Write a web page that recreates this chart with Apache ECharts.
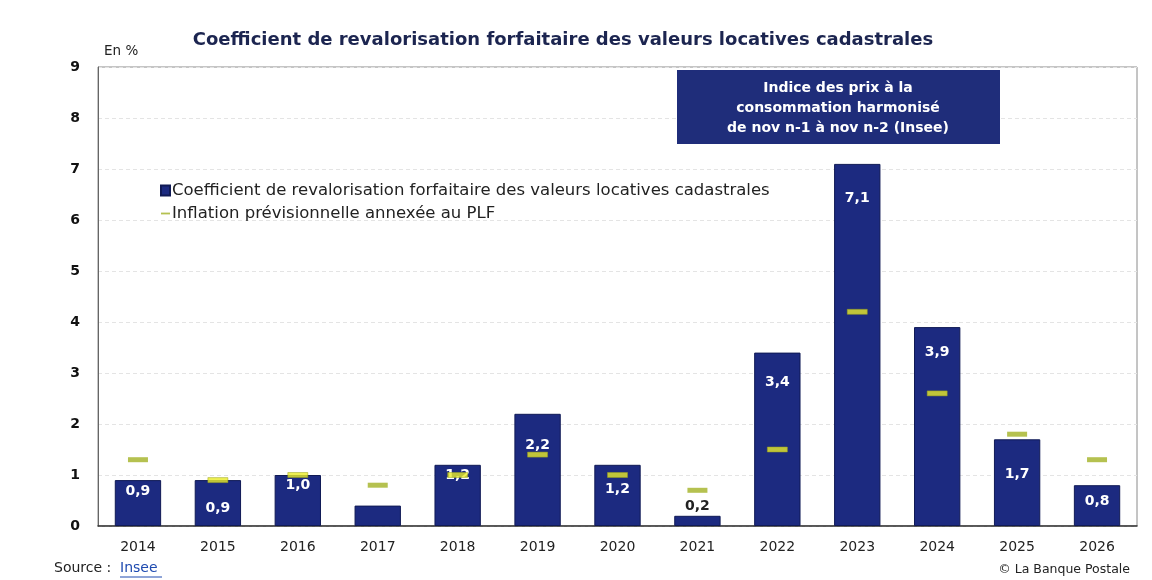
<!DOCTYPE html>
<html>
<head>
<meta charset="utf-8">
<script src="https://cdn.jsdelivr.net/npm/echarts@6/dist/echarts.min.js"></script>
<style>
  html, body { margin: 0; padding: 0; background: #fff; }
  #main { width: 1152px; height: 580px; }
</style>
</head>
<body>
<div id="main"></div>
<script>
// données
const years = ['2014', '2015', '2016', '2017', '2018', '2019', '2020', '2021', '2022', '2023', '2024', '2025', '2026'];
const coefValues = [0.9, 0.9, 1.0, 0.4, 1.2, 2.2, 1.2, 0.2, 3.4, 7.1, 3.9, 1.7, 0.8];
const coefLabels = ['0,9', '0,9', '1,0', '', '1,2', '2,2', '1,2', '0,2', '3,4', '7,1', '3,9', '1,7', '0,8'];
const inflationPLF = [1.3, 0.9, 1.0, 0.8, 1.0, 1.4, 1.0, 0.7, 1.5, 4.2, 2.6, 1.8, 1.3];
const yTicks = [0, 1, 2, 3, 4, 5, 6, 7, 8, 9];

const navy = '#1c2a80';
const olive = '#a3b224';
const yellow = '#eaec28';
const font = 'DejaVu Sans';

// distance du label sous le haut de la barre (px)
const labelDist = { '2014': 4, '2015': 21, '2016': 3, '2018': 4, '2019': 25, '2020': 18,
  '2022': 23, '2023': 27, '2024': 18, '2025': 28, '2026': 9 };

const barData = coefValues.map((v, i) => {
  const y = years[i];
  if (y === '2021') {
    return { value: v, label: { show: true, position: 'top', distance: 2, color: '#222' } };
  }
  if (!coefLabels[i]) return { value: v, label: { show: false } };
  return { value: v, label: { show: true, position: 'insideTop', distance: labelDist[y] || 6 } };
});

// marqueur jaune vif quand il tombe dans la barre, vert olive sinon
const inflData = inflationPLF.map((v, i) => ({
  value: v,
  itemStyle: v <= coefValues[i]
    ? { color: yellow, borderColor: '#9aa31c', borderWidth: 0.5 }
    : { color: olive }
}));

const chart = echarts.init(document.getElementById('main'));
chart.setOption({
  backgroundColor: '#fff',
  animation: false,
  textStyle: { fontFamily: font },
  title: {
    text: 'Coefficient de revalorisation forfaitaire des valeurs locatives cadastrales',
    left: 558, top: 26, textAlign: 'center',
    textStyle: { fontSize: 18, fontWeight: 'bold', color: '#1c2550', fontFamily: font }
  },
  legend: {
    left: 155, top: 177, orient: 'vertical', itemGap: 6,
    itemWidth: 9, itemHeight: 10,
    textStyle: { fontSize: 16.5, color: '#222', padding: [0, 0, 0, -3] },
    data: [
      { name: 'Coefficient de revalorisation forfaitaire des valeurs locatives cadastrales', icon: 'rect' },
      { name: 'Inflation prévisionnelle annexée au PLF', icon: 'path://M0,4 L10,4 L10,6 L0,6 Z', itemStyle: { color: olive } }
    ]
  },
  grid: { left: 98, right: 15, top: 67, bottom: 54, show: true, borderColor: '#8a8a8a', borderWidth: 1 },
  xAxis: {
    type: 'category', data: years,
    axisLine: { show: true, lineStyle: { color: '#333', width: 1.5 } },
    axisTick: { show: false },
    axisLabel: { fontSize: 14, color: '#222', margin: 14 }
  },
  yAxis: {
    type: 'value', min: yTicks[0], max: yTicks[yTicks.length - 1], interval: 1,
    name: 'En %', nameLocation: 'end', nameGap: 9,
    nameTextStyle: { fontSize: 13.5, color: '#222', align: 'left', padding: [0, 0, 0, 6] },
    axisLine: { show: true, lineStyle: { color: '#666' } },
    axisTick: { show: false },
    axisLabel: { fontSize: 14, fontWeight: 'bold', color: '#111', margin: 18 },
    splitLine: { lineStyle: { color: '#e4e4e4', type: [4, 3] } }
  },
  series: [
    {
      name: 'Coefficient de revalorisation forfaitaire des valeurs locatives cadastrales',
      type: 'bar', data: barData, barWidth: '58%',
      itemStyle: { color: navy, borderColor: '#101a55', borderWidth: 1 },
      label: {
        color: '#fff', fontSize: 14, fontWeight: 'bold',
        formatter: p => coefLabels[p.dataIndex]
      },
      z: 2
    },
    {
      name: 'Inflation prévisionnelle annexée au PLF',
      type: 'scatter', data: inflData,
      symbol: 'rect', symbolSize: [20, 5],
      itemStyle: { color: olive },
      z: 3
    }
  ],
  graphic: [
    {
      type: 'rect', left: 677, top: 70, z: 100,
      shape: { width: 323, height: 74 }, style: { fill: '#1f2d7a' }
    },
    {
      type: 'text', x: 838, y: 78, z: 101,
      style: {
        text: 'Indice des prix à la\nconsommation harmonisé\nde nov n-1 à nov n-2 (Insee)',
        fill: '#fff', font: 'bold 14px "DejaVu Sans"', align: 'center', verticalAlign: 'top', lineHeight: 20
      }
    },
    {
      type: 'text', left: 54, top: 561,
      style: { text: 'Source :', fill: '#222', font: '14px "DejaVu Sans"' }
    },
    {
      type: 'text', left: 120, top: 561,
      style: { text: 'Insee', fill: '#1f4bb0', font: '14px "DejaVu Sans"' }
    },
    {
      type: 'line', shape: { x1: 120, y1: 577, x2: 162, y2: 577 },
      style: { stroke: '#1f4bb0', lineWidth: 1 }
    },
    {
      type: 'text', right: 22, top: 563,
      style: { text: '© La Banque Postale', fill: '#222', font: '12.5px "DejaVu Sans"' }
    }
  ]
});
</script>
</body>
</html>
